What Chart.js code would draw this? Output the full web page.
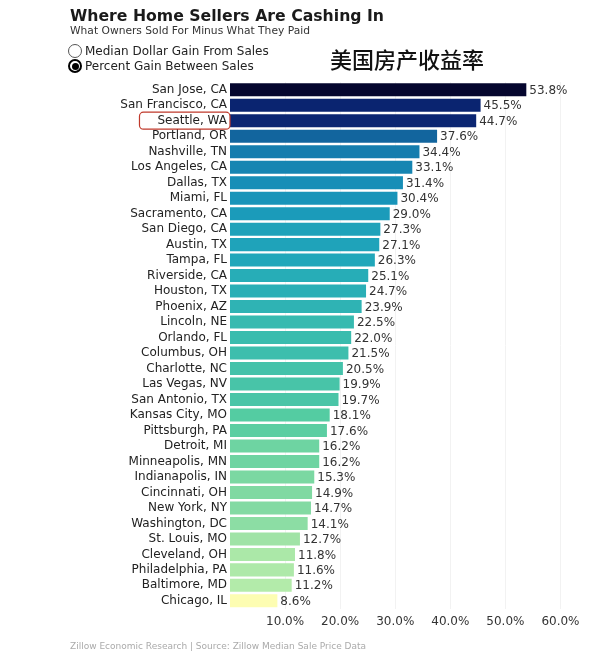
<!DOCTYPE html>
<html>
<head>
<meta charset="utf-8">
<script src="https://cdn.jsdelivr.net/npm/chart.js@4.4.0/dist/chart.umd.min.js"></script>
<style>
    body { margin: 0; background: #fff; font-family: "DejaVu Sans", Verdana, sans-serif; }
    #wrap { position: relative; width: 616px; height: 656px; overflow: hidden; }
    #chart { position: absolute; left: 0; top: 0; }
    .txt { position: absolute; white-space: nowrap; color: #222; }
    #title { left: 70px; top: 6px; font-size: 15.7px; font-weight: bold; color: #1a1a1a; }
    #subtitle { left: 70px; top: 24px; font-size: 10.7px; color: #333; }
    .radio { left: 68px; font-size: 12px; color: #222; }
    .radio span.dot { display: inline-block; width: 14px; height: 14px; border: 1px solid #555;
        border-radius: 50%; vertical-align: -3px; margin-right: 3px; box-sizing: border-box; position: relative; }
    .radio span.on { border: 2px solid #000; }
    .radio span.on::after { content: ''; position: absolute; left: 1.5px; top: 1.5px; width: 7px; height: 7px;
        border-radius: 50%; background: #000; }
    #cn { left: 330px; top: 42px; font-family: "Noto Sans CJK SC", sans-serif; font-size: 22px; font-weight: 500; color: #111; }
    #footer { left: 70px; top: 641px; font-size: 9px; color: #aaa; }
</style>
</head>
<body>
<div id="wrap">
    <canvas id="chart" width="616" height="656"></canvas>
    <div class="txt" id="title">Where Home Sellers Are Cashing In</div>
    <div class="txt" id="subtitle">What Owners Sold For Minus What They Paid</div>
    <div class="txt radio" style="top:44px"><span class="dot"></span>Median Dollar Gain From Sales</div>
    <div class="txt radio" style="top:59px"><span class="dot on"></span>Percent Gain Between Sales</div>
    <div class="txt" id="cn">美国房产收益率</div>
    <div class="txt" id="footer">Zillow Economic Research | Source: Zillow Median Sale Price Data</div>
</div>
<script>
// Города и процент прироста
const cities = ['San Jose, CA', 'San Francisco, CA', 'Seattle, WA', 'Portland, OR', 'Nashville, TN',
    'Los Angeles, CA', 'Dallas, TX', 'Miami, FL', 'Sacramento, CA', 'San Diego, CA', 'Austin, TX',
    'Tampa, FL', 'Riverside, CA', 'Houston, TX', 'Phoenix, AZ', 'Lincoln, NE', 'Orlando, FL',
    'Columbus, OH', 'Charlotte, NC', 'Las Vegas, NV', 'San Antonio, TX', 'Kansas City, MO',
    'Pittsburgh, PA', 'Detroit, MI', 'Minneapolis, MN', 'Indianapolis, IN', 'Cincinnati, OH',
    'New York, NY', 'Washington, DC', 'St. Louis, MO', 'Cleveland, OH', 'Philadelphia, PA',
    'Baltimore, MD', 'Chicago, IL'];
const percentGain = [53.8, 45.5, 44.7, 37.6, 34.4, 33.1, 31.4, 30.4, 29.0, 27.3, 27.1, 26.3, 25.1,
    24.7, 23.9, 22.5, 22.0, 21.5, 20.5, 19.9, 19.7, 18.1, 17.6, 16.2, 16.2, 15.3, 14.9, 14.7, 14.1,
    12.7, 11.8, 11.6, 11.2, 8.6];
const xTicks = [10, 20, 30, 40, 50, 60];
const highlighted = 'Seattle, WA';

// Цветовая шкала по значению
const colorStops = [
    [8.6, [253, 253, 178]], [11.2, [179, 235, 170]], [12.7, [160, 227, 166]], [15, [127, 217, 162]],
    [18, [85, 204, 162]], [22, [58, 188, 174]], [26, [34, 168, 186]], [30, [24, 150, 186]],
    [34, [21, 128, 176]], [38, [18, 98, 156]], [44, [11, 40, 116]], [46, [10, 35, 110]], [54, [5, 5, 44]]
];
function colorFor(v) {
    for (let i = 1; i < colorStops.length; i++) {
        const [v1, c1] = colorStops[i];
        const [v0, c0] = colorStops[i - 1];
        if (v <= v1) {
            const t = (v - v0) / (v1 - v0);
            const c = c0.map((x, k) => Math.round(x + (c1[k] - x) * t));
            return `rgb(${c[0]},${c[1]},${c[2]})`;
        }
    }
    const c = colorStops[colorStops.length - 1][1];
    return `rgb(${c[0]},${c[1]},${c[2]})`;
}

const FONT = '"DejaVu Sans", Verdana, sans-serif';

// Подписи значений справа от столбцов
const valueLabels = {
    id: 'valueLabels',
    afterDatasetsDraw(chart) {
        const ctx = chart.ctx;
        const meta = chart.getDatasetMeta(0);
        ctx.save();
        ctx.font = '12px ' + FONT;
        ctx.fillStyle = '#333';
        ctx.textAlign = 'left';
        ctx.textBaseline = 'middle';
        meta.data.forEach((bar, i) => {
            ctx.fillText(percentGain[i].toFixed(1) + '%', bar.x + 3, bar.y + 1);
        });
        ctx.restore();
    }
};

// Рамка вокруг выделенного города
const highlightBox = {
    id: 'highlightBox',
    afterDraw(chart) {
        const idx = cities.indexOf(highlighted);
        const y = chart.scales.y.getPixelForValue(idx);
        const ctx = chart.ctx;
        ctx.save();
        ctx.font = '12px ' + FONT;
        const w = ctx.measureText(highlighted).width;
        const right = chart.chartArea.left;
        const left = right - w - 21;
        ctx.strokeStyle = '#c0392b';
        ctx.lineWidth = 1.2;
        ctx.beginPath();
        ctx.roundRect(left, y - 8.5, right - left, 17, 4);
        ctx.stroke();
        ctx.restore();
    }
};

new Chart(document.getElementById('chart'), {
    type: 'bar',
    data: {
        labels: cities,
        datasets: [{
            data: percentGain,
            backgroundColor: percentGain.map(colorFor),
            borderWidth: 0,
            barPercentage: 0.84,
            categoryPercentage: 1.0
        }]
    },
    options: {
        indexAxis: 'y',
        responsive: false,
        animation: false,
        layout: { padding: { top: 82, right: 28, bottom: 21, left: 0 } },
        plugins: { legend: { display: false }, tooltip: { enabled: false } },
        scales: {
            x: {
                min: 0,
                max: 65,
                afterBuildTicks: scale => { scale.ticks = xTicks.map(v => ({ value: v })); },
                ticks: {
                    color: '#333',
                    font: { family: FONT, size: 12 },
                    padding: 6,
                    callback: v => v.toFixed(1) + '%'
                },
                grid: { color: '#f2f2f2', drawTicks: false },
                border: { display: false }
            },
            y: {
                afterFit: scale => { scale.width = 230; },
                ticks: {
                    color: '#222',
                    font: { family: FONT, size: 12 },
                    padding: 3,
                    autoSkip: false
                },
                grid: { display: false, drawTicks: false, tickLength: 0 },
                border: { display: false }
            }
        }
    },
    plugins: [valueLabels, highlightBox]
});
</script>
</body>
</html>
